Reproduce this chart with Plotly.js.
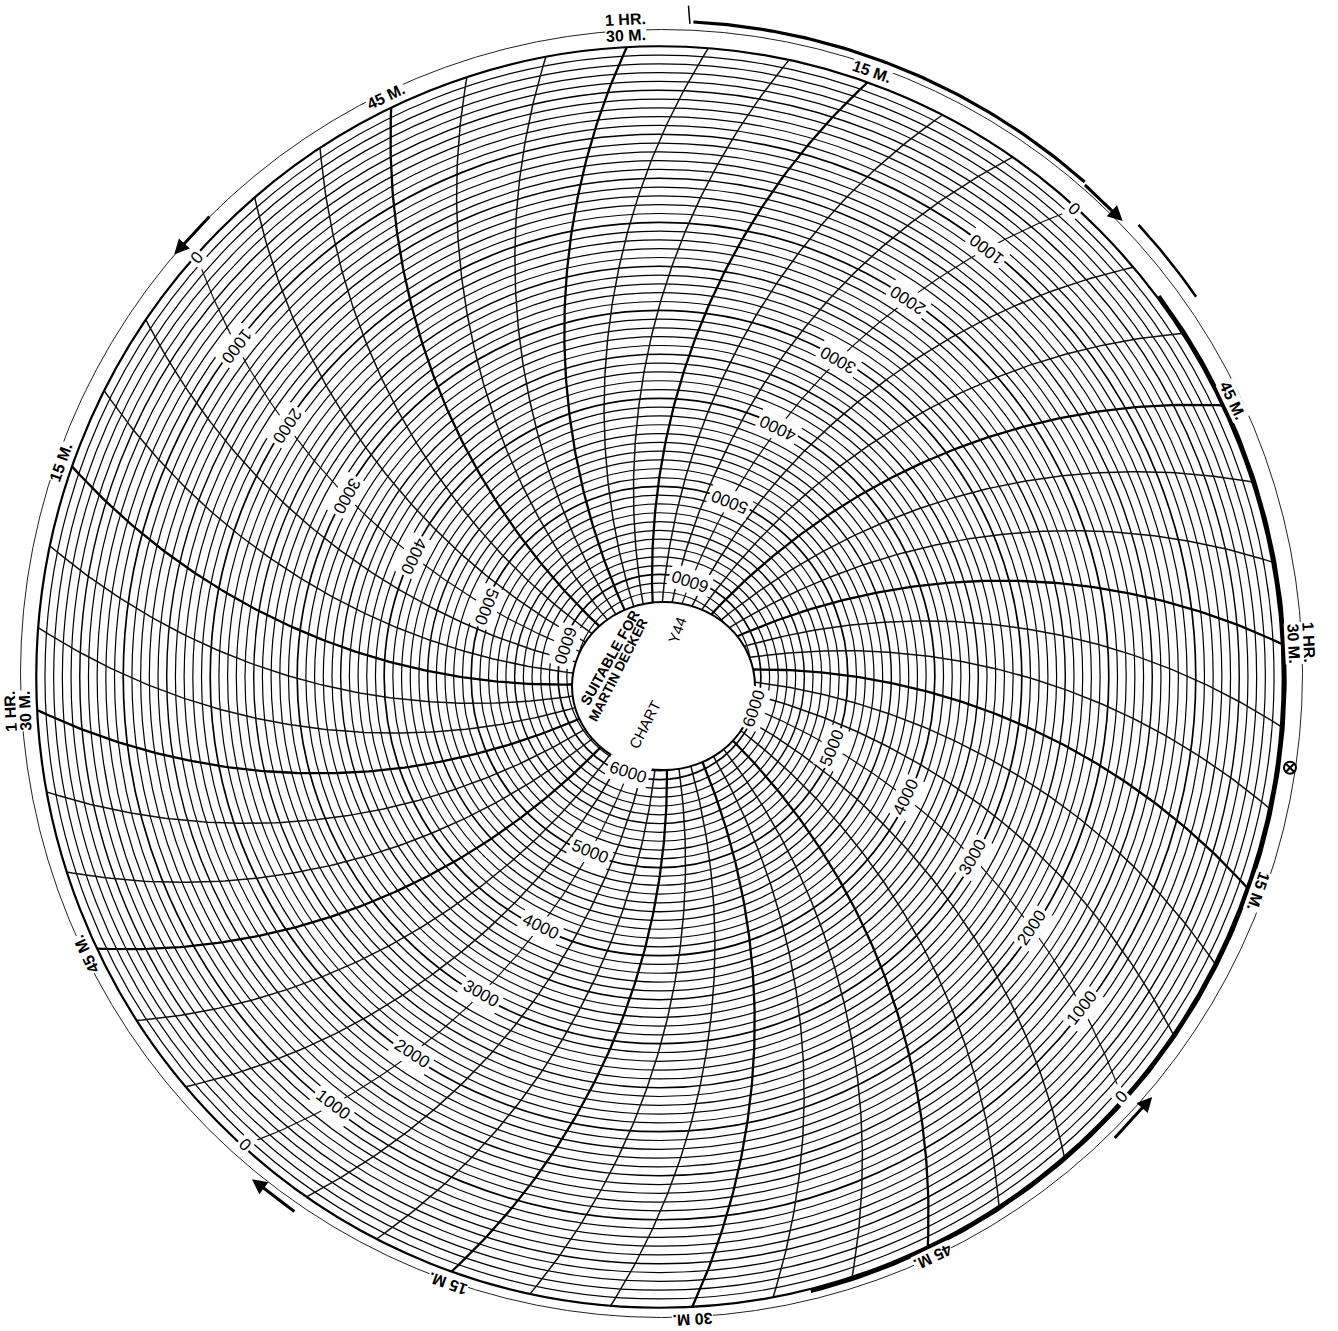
<!DOCTYPE html>
<html>
<head>
<meta charset="utf-8">
<script src="https://cdn.plot.ly/plotly-3.0.1.min.js"></script>
<style>
html, body { margin: 0; padding: 0; background: #fff; }
#chart { width: 1338px; height: 1331px; }
</style>
</head>
<body>
<div id="chart"></div>
<script>
// numbers printed on the rings: 0 at the rim, 6000 at the hub, a ring every 100
var scaleLabels = [0, 1000, 2000, 3000, 4000, 5000, 6000];
var ringStep = 100;
var ringLast = 6200;

// pen arcs: 48 of them, one every 7.5 deg, first one ends at the top
var arcCount = 48;
var arcFirst = -3;
var arcStep = 7.5;
var labelArcs = [6, 18, 30, 42]; // arcs that carry the 0..6000 numbers

// rim labels and the arc each one sits on
var rimText = ["1 HR.", "30 M.", "15 M.", "45 M.", "1 HR.", "30 M.", "15 M.", "45 M.",
               "30 M.", "15 M.", "45 M.", "1 HR.", "30 M.", "15 M.", "45 M."];
var rimArc = [0, 0, 3, 9, 12, 12, 15, 21, 24, 27, 33, 36, 36, 39, 45];
var rimLevel = [1, 0, 0, 0, 1, 0, 0, 0, 0, 0, 0, 1, 0, 0, 0]; // 1 = outer line

// arrows on the outer circle (tail angle -> head angle, degrees clockwise from top)
var arrowTail = [315.5, 41, 135.2, 214.5];
var arrowHead = [310.7, 45.8, 130.1, 219.4];

// dark smear along the right hand rim (from / to angle)
var smearFrom = [3, 47, 53];
var smearTo = [41, 55, 166];

// scan geometry (pixels)
var CX = 659.5, CY = 677, SX = 0.994, SY = 1.006;
var R0 = 627, R6000 = 102, PEN = 665;

function rOf(v) { return R0 - v * (R0 - R6000) / 6000; }
function toXY(r, phi) {
    var a = phi * Math.PI / 180;
    return [CX + r * Math.sin(a) * SX, CY - r * Math.cos(a) * SY];
}
function arcPhi(k, r) {
    var base = arcFirst + k * arcStep;
    var d = Math.acos(R0 / (2 * PEN)) - Math.acos(Math.min(r, R0) / (2 * PEN));
    return base + d * 180 / Math.PI;
}
function norm(a) {
    a = a % 360;
    if (a > 180) a -= 360;
    if (a < -180) a += 360;
    return a;
}

var traces = [];

// pen arcs, grouped by weight
var groups = { major: { x: [], y: [] }, minor: { x: [], y: [] }, lab: { x: [], y: [] } };
for (let k = 0; k < arcCount; k++) {
    var g = labelArcs.indexOf(k) >= 0 ? groups.lab : (k % 3 === 0 ? groups.major : groups.minor);
    for (let r = 62; r <= R0; r += 5) {
        var p = toXY(r, arcPhi(k, r));
        g.x.push(p[0]); g.y.push(p[1]);
    }
    var pe = toXY(R0, arcPhi(k, R0));
    g.x.push(pe[0]); g.y.push(pe[1]);
    g.x.push(null); g.y.push(null);
}
traces.push({ x: groups.minor.x, y: groups.minor.y, mode: "lines", line: { color: "#111", width: 1.5 }, hoverinfo: "skip" });
traces.push({ x: groups.lab.x, y: groups.lab.y, mode: "lines", line: { color: "#111", width: 1.2 }, hoverinfo: "skip" });
traces.push({ x: groups.major.x, y: groups.major.y, mode: "lines", line: { color: "#000", width: 2.3 }, hoverinfo: "skip" });

// smear on the rim
var smearR = [652, 659, R0 + 2];
var smearW = [3.2, 2.5, 4];
for (let i = 0; i < smearFrom.length; i++) {
    var sx = [], sy = [];
    for (let a = smearFrom[i]; a <= smearTo[i]; a += 0.5) {
        var q = toXY(smearR[i], a);
        sx.push(q[0]); sy.push(q[1]);
    }
    traces.push({ x: sx, y: sy, mode: "lines", line: { color: "#000", width: smearW[i] }, hoverinfo: "skip" });
}
// little tick where the smear starts at the top
var t0 = toXY(650, 2.7), t1 = toXY(668, 2.5);
traces.push({ x: [t0[0], t1[0]], y: [t0[1], t1[1]], mode: "lines", line: { color: "#000", width: 1.5 }, hoverinfo: "skip" });

// small marks: pen start tick near the hub, stamp on the right rim
var tick = toXY(83.6, 170.6), stamp = toXY(640.7, 98.1);
traces.push({ x: [tick[0]], y: [tick[1]], mode: "markers", marker: { symbol: "triangle-down", size: 5, color: "#000" }, hoverinfo: "skip" });
traces.push({ x: [stamp[0]], y: [stamp[1]], mode: "markers", marker: { symbol: "circle-x-open", size: 12, color: "#000", line: { width: 2 } }, hoverinfo: "skip" });

// rings
var shapes = [];
for (let v = 0; v <= ringLast; v += ringStep) {
    var r = rOf(v);
    var w = v === 0 ? 2.2 : (v % 1000 === 0 ? 1.7 : (v % 500 === 0 ? 1.45 : 1.2));
    shapes.push({
        type: "circle", xref: "x", yref: "y", layer: "below",
        x0: CX - r * SX, x1: CX + r * SX, y0: CY - r * SY, y1: CY + r * SY,
        line: { color: "#000", width: w }
    });
}
// thin outer guide circle
shapes.push({
    type: "circle", xref: "x", yref: "y", layer: "below",
    x0: 661.5 - 641, x1: 661.5 + 641, y0: 673.5 - 644, y1: 673.5 + 644,
    line: { color: "#222", width: 1 }
});
// blank hub
shapes.push({
    type: "circle", xref: "x", yref: "y", layer: "above",
    x0: 572, x1: 755, y0: 602, y1: 770,
    fillcolor: "#fff", line: { color: "#000", width: 2 }
});

var FONT = "Liberation Sans, Arial, Helvetica, sans-serif";
var annotations = [];

// ring numbers along the four label arcs
labelArcs.forEach(function (k) {
    scaleLabels.forEach(function (v) {
        var r = rOf(v) - 2;
        var phi = arcPhi(k, r);
        var p = toXY(r, phi);
        annotations.push({
            x: p[0], y: p[1], xref: "x", yref: "y", text: String(v), showarrow: false,
            textangle: norm(phi + 180), bgcolor: "#fff", borderpad: 2,
            font: { family: FONT, size: 17, color: "#000" }
        });
    });
});

// rim time labels
rimText.forEach(function (t, i) {
    var phi = arcFirst + rimArc[i] * arcStep;
    var p = toXY(rimLevel[i] ? 654 : 639, phi);
    annotations.push({
        x: p[0], y: p[1], xref: "x", yref: "y", text: "<b>" + t + "</b>", showarrow: false,
        textangle: norm(phi), bgcolor: "#fff", borderpad: 0,
        font: { family: FONT, size: 16, color: "#000" }
    });
});

// rim arrows
var arrowR = [644, 650, 648, 646];
arrowTail.forEach(function (a, i) {
    var t = toXY(arrowR[i], a), h = toXY(arrowR[i], arrowHead[i]);
    annotations.push({
        x: h[0], y: h[1], ax: t[0], ay: t[1], xref: "x", yref: "y", axref: "x", ayref: "y",
        text: "", showarrow: true, arrowhead: 2, arrowsize: 1, arrowwidth: 3, arrowcolor: "#000", standoff: 0
    });
});

// hub text
annotations.push({ x: 610.7, y: 657.3, xref: "x", yref: "y", text: "<b>SUITABLE FOR</b>", showarrow: false, textangle: -61, font: { family: FONT, size: 14.5, color: "#000" } });
annotations.push({ x: 618, y: 670.5, xref: "x", yref: "y", text: "<b>MARTIN DECKER</b>", showarrow: false, textangle: -63, font: { family: FONT, size: 13.5, color: "#000" } });
annotations.push({ x: 677, y: 630.5, xref: "x", yref: "y", text: "Y44", showarrow: false, textangle: -70, font: { family: FONT, size: 15, color: "#000" } });
annotations.push({ x: 644, y: 725, xref: "x", yref: "y", text: "CHART", showarrow: false, textangle: -63, font: { family: FONT, size: 15, color: "#000" } });

var layout = {
    width: 1338, height: 1331, autosize: false,
    margin: { l: 0, r: 0, t: 0, b: 0, pad: 0 },
    paper_bgcolor: "#fff", plot_bgcolor: "#fff",
    showlegend: false,
    xaxis: { range: [0, 1338], visible: false, fixedrange: true },
    yaxis: { range: [1331, 0], visible: false, fixedrange: true },
    shapes: shapes,
    annotations: annotations
};

Plotly.newPlot("chart", traces, layout, { displayModeBar: false, staticPlot: true });
</script>
</body>
</html>
